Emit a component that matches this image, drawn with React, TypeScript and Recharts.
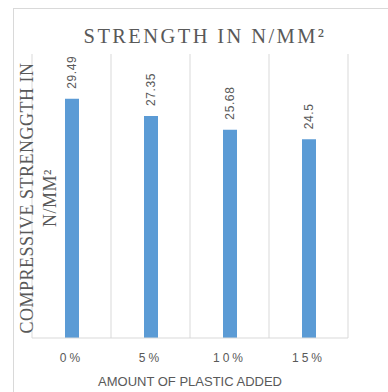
import React from 'react';
import { BarChart, Bar, XAxis, YAxis, CartesianGrid } from 'recharts';

const categories = ['0%', '5%', '10%', '15%'];
const strengths = [29.49, 27.35, 25.68, 24.5];
const chartTitle = 'STRENGTH IN N/MM²';
const yTitleLines = ['COMPRESSIVE STRENGGTH IN', 'N/MM²'];
const xTitle = 'AMOUNT OF PLASTIC ADDED';

const data = categories.map((c, i) => ({ category: c, strength: strengths[i] }));

const GRAY = '#595959';
const GRID = '#d9d9d9';

const BarValueLabel = (props: any) => {
  const { x, y, width, value } = props;
  const cx = Number(x) + Number(width) / 2;
  const ty = Number(y) - 10;
  return (
    <text
      x={cx}
      y={ty}
      transform={`rotate(-90 ${cx} ${ty})`}
      textAnchor="start"
      dy="0.35em"
      fill={GRAY}
      fontSize={12}
      letterSpacing={0.6}
      fontFamily="Liberation Sans, Arial, sans-serif"
    >
      {value}
    </text>
  );
};

export default function App() {
  return (
    <div
      style={{
        position: 'fixed',
        left: 0,
        top: 0,
        width: 388,
        height: 392,
        overflow: 'hidden',
        background: '#fff',
      }}
    >
      <div
        style={{
          position: 'absolute',
          left: 13,
          top: 8,
          width: 600,
          height: 600,
          borderLeft: `1px solid ${GRID}`,
          borderTop: `1px solid ${GRID}`,
        }}
      />
      <div style={{ position: 'absolute', left: 0, top: 0 }}>
        <BarChart
          width={388}
          height={392}
          data={data}
          margin={{ top: 54, right: 40, bottom: 0, left: 32 }}
        >
          <CartesianGrid
            horizontal={false}
            stroke={GRID}
            verticalCoordinatesGenerator={({ offset }: any) =>
              [0, 1, 2, 3, 4].map((i) => offset.left + (i * offset.width) / categories.length)
            }
          />
          <XAxis
            dataKey="category"
            height={54}
            interval={0}
            axisLine={{ stroke: GRID }}
            tickLine={false}
            tickMargin={9}
            tick={{
              fill: GRAY,
              fontSize: 12,
              letterSpacing: 3,
              fontFamily: 'Liberation Sans, Arial, sans-serif',
            }}
          />
          <YAxis hide domain={[0, 35]} />
          <Bar
            dataKey="strength"
            fill="#5b9bd5"
            barSize={14}
            isAnimationActive={false}
            label={<BarValueLabel />}
          />
        </BarChart>
      </div>
      <svg
        width={388}
        height={392}
        style={{ position: 'absolute', left: 0, top: 0, pointerEvents: 'none' }}
      >
        <text
          x={205}
          y={43}
          textAnchor="middle"
          fill={GRAY}
          fontSize={20.5}
          letterSpacing={2.4}
          fontFamily="Liberation Serif, Times New Roman, serif"
        >
          {chartTitle}
        </text>
        {yTitleLines.map((line, i) => {
          const cx = 27 + i * 22.5;
          const cy = 198;
          return (
            <text
              key={i}
              x={cx}
              y={cy}
              transform={`rotate(-90 ${cx} ${cy})`}
              textAnchor="middle"
              dy="0.35em"
              fill={GRAY}
              fontSize={18}
              letterSpacing={0.5}
              fontFamily="Liberation Serif, Times New Roman, serif"
            >
              {line}
            </text>
          );
        })}
        <text
          x={190}
          y={385.5}
          textAnchor="middle"
          fill={GRAY}
          fontSize={13}
          fontFamily="Liberation Sans, Arial, sans-serif"
        >
          {xTitle}
        </text>
      </svg>
    </div>
  );
}
